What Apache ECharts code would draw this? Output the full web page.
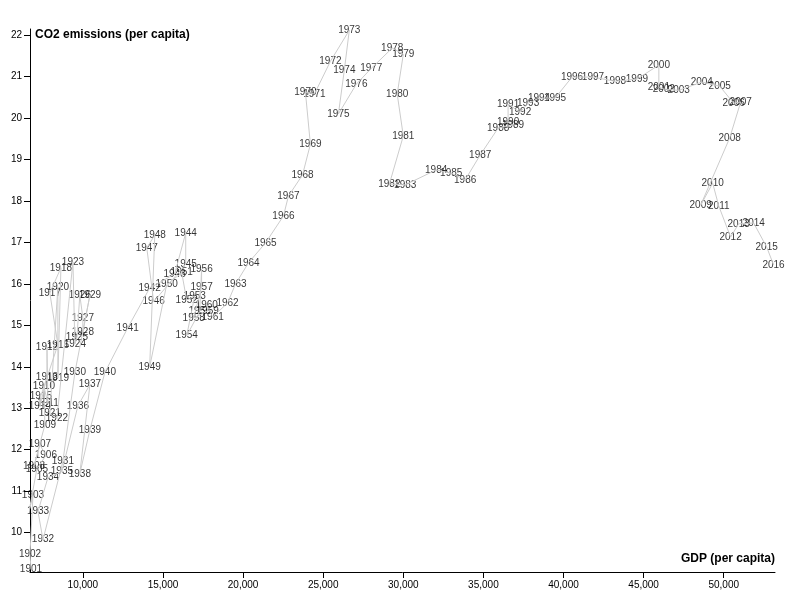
<!DOCTYPE html>
<html>
<head>
<meta charset="utf-8">
<title>CO2 vs GDP</title>
<script src="https://cdn.jsdelivr.net/npm/echarts@6/dist/echarts.min.js"></script>
<style>
    html, body { margin: 0; padding: 0; background: #fff; }
    #main { width: 805px; height: 600px; }
</style>
</head>
<body>
<div id="main"></div>
<script>
    var years = [];
    for (var y = 1901; y <= 2016; y++) years.push(y);

    // GDP per capita, one per year 1901..2016
    var gdp = [6760, 6700, 6885, 6640, 7130, 7690, 7320, 6950, 7630, 7570,
        7820, 7760, 7760, 7320, 7380, 8440, 7940, 8630, 8440, 8440,
        7940, 8380, 9380, 9500, 9630, 9810, 10000, 10000, 10440, 9500,
        8750, 7510, 7200, 7820, 8690, 9690, 10440, 9810, 10440, 11370,
        12800, 14170, 15730, 16420, 16420, 14420, 13990, 14490, 14170, 15230,
        16170, 16480, 16980, 16480, 17290, 17410, 17410, 16920, 17790, 17730,
        18100, 19030, 19530, 20340, 21400, 22520, 22830, 23710, 24200, 23890,
        24450, 25450, 26630, 26320, 25950, 27070, 28000, 29310, 30000, 29620,
        30000, 29130, 30120, 32050, 32990, 33860, 34800, 35920, 36850, 36540,
        36540, 37290, 37790, 38470, 39470, 40530, 41840, 43210, 44580, 45950,
        45950, 46260, 47190, 48630, 49750, 50620, 51060, 50370, 48560, 49310,
        49690, 50430, 50930, 51870, 52680, 53110];

    // CO2 emissions per capita
    var co2 = [9.11, 9.49, 10.89, 10.51, 11.54, 11.86, 12.12, 11.61, 12.60, 13.52,
        13.11, 14.48, 13.76, 13.04, 13.30, 14.53, 15.78, 16.39, 13.73, 15.93,
        12.87, 12.75, 16.53, 14.55, 14.72, 15.73, 15.18, 14.84, 15.73, 13.86,
        11.71, 9.83, 10.51, 11.33, 11.47, 13.06, 13.57, 11.42, 12.48, 13.86,
        14.94, 15.90, 16.24, 17.23, 16.48, 15.57, 16.87, 17.18, 14.00, 15.98,
        16.27, 15.61, 15.71, 14.75, 15.33, 16.36, 15.93, 15.18, 15.35, 15.49,
        15.20, 15.54, 16.00, 16.51, 16.99, 17.64, 18.12, 18.63, 19.37, 20.63,
        20.58, 21.37, 22.12, 21.16, 20.10, 20.82, 21.20, 21.69, 21.54, 20.58,
        19.57, 18.41, 18.39, 18.75, 18.67, 18.51, 19.11, 19.76, 19.83, 19.90,
        20.34, 20.14, 20.36, 20.48, 20.48, 20.99, 20.99, 20.89, 20.94, 21.28,
        20.75, 20.70, 20.67, 20.87, 20.77, 20.36, 20.39, 19.52, 17.90, 18.43,
        17.88, 17.13, 17.45, 17.47, 16.89, 16.46];

    var xTicks = [10000, 15000, 20000, 25000, 30000, 35000, 40000, 45000, 50000];
    var yTicks = [10, 11, 12, 13, 14, 15, 16, 17, 18, 19, 20, 21, 22];

    var points = years.map(function (yr, i) { return [gdp[i], co2[i], yr]; });
    var font = 'Liberation Sans, Arial, sans-serif';

    var chart = echarts.init(document.getElementById('main'));
    chart.setOption({
        animation: false,
        grid: { left: 30, right: 30, top: 29, bottom: 28 },
        xAxis: {
            type: 'value', min: 6700, max: 53200,
            splitLine: { show: false },
            axisLine: { onZero: false, lineStyle: { color: '#000' } },
            axisTick: { show: true, length: 6, lineStyle: { color: '#000' }, customValues: xTicks },
            axisLabel: {
                customValues: xTicks, color: '#000', fontSize: 10, fontFamily: font, margin: 8,
                formatter: function (v) { return v.toLocaleString('en-US'); }
            }
        },
        yAxis: {
            type: 'value', min: 9.05, max: 22.15,
            splitLine: { show: false },
            axisLine: { show: true, onZero: false, lineStyle: { color: '#000' } },
            axisTick: { show: true, length: 6, lineStyle: { color: '#000' }, customValues: yTicks },
            axisLabel: { customValues: yTicks, color: '#000', fontSize: 10, fontFamily: font, margin: 8 }
        },
        graphic: [
            { type: 'text', left: 35, top: 29, style: { text: 'CO2 emissions (per capita)', font: 'bold 12px ' + font, fill: '#000' } },
            { type: 'text', right: 30, top: 553, style: { text: 'GDP (per capita)', font: 'bold 12px ' + font, fill: '#000' } }
        ],
        series: [{
            type: 'line',
            data: points,
            symbol: 'none',
            lineStyle: { color: '#ccc', width: 1 },
            silent: true
        }, {
            type: 'scatter',
            data: points,
            symbolSize: 1,
            itemStyle: { color: 'rgba(0,0,0,0)' },
            label: {
                show: true, position: 'inside', color: '#000', fontSize: 10, fontFamily: font,
                formatter: function (p) { return p.value[2]; }
            },
            labelLayout: { hideOverlap: false }
        }]
    });
</script>
</body>
</html>
